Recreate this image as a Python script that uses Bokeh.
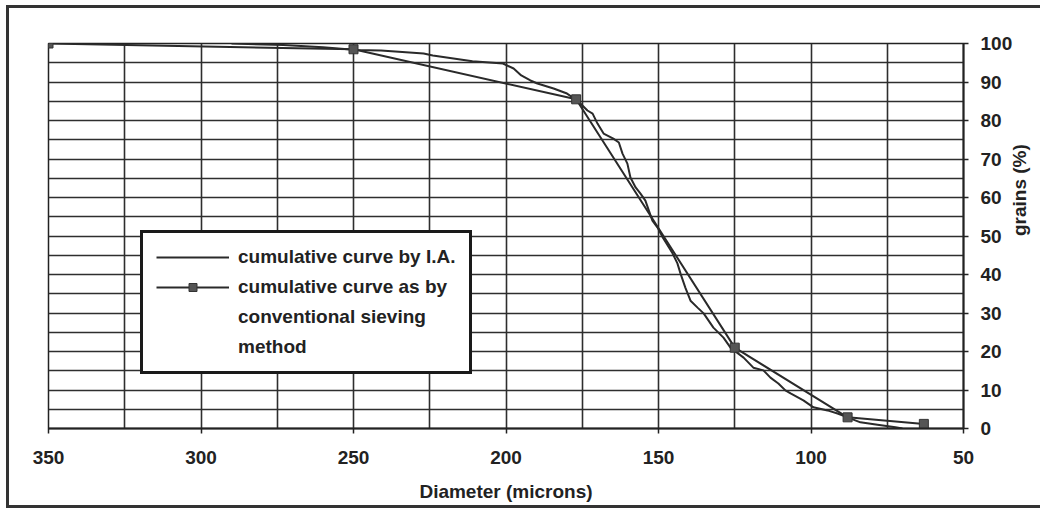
import numpy as np
from bokeh.plotting import figure
from bokeh.models import (Range1d, SingleIntervalTicker, FixedTicker, Legend,
                          LegendItem)
from bokeh.embed import file_html
from bokeh.resources import INLINE

# ---- data -------------------------------------------------------------
sieve_diam = [350, 250, 177, 125, 88, 63]
sieve_pct = [100, 98.5, 85.5, 21, 2.9, 1.2]

ia_diam = [290, 273, 260, 249, 241, 227, 224, 211, 201, 197.5, 195, 192, 189.7,
           184.4, 180, 176.6, 173.3, 171.6, 170, 168, 164.8, 163, 161.8, 160.2,
           159.2, 157.5, 155.9, 154.3, 152, 150.3, 148.5, 145.4, 143.8, 142.8,
           141.2, 139.5, 137.2, 135.2, 132, 128.7, 126.4, 122.1, 118.9, 115.6,
           113.3, 110.7, 108.4, 106.7, 102.5, 99.2, 94.6, 91.3, 88, 83.8, 78.2,
           72.3, 70]
ia_pct = [100, 99.6, 99.0, 98.3, 98.2, 97.4, 96.9, 95.4, 94.8, 93.5, 91.7, 90.4,
          89.6, 88.3, 87, 85.2, 82.6, 81.8, 79.2, 76.6, 75.3, 74.3, 71.4, 68.8,
          65.2, 62.6, 61, 59.2, 54, 52.2, 49.5, 45.5, 42.9, 40.3, 36.6, 33.2, 31.4,
          29.9, 26.2, 23.6, 21, 18.4, 15.8, 15.1, 13.2, 11.7, 9.9, 9.1, 7.3, 5.5,
          4.7, 3.9, 2.9, 1.6, 1.0, 0.3, 0]

x_ticks = [350, 300, 250, 200, 150, 100, 50]
y_ticks = [0, 10, 20, 30, 40, 50, 60, 70, 80, 90, 100]

x_title = "Diameter (microns)"
y_title = "grains (%)"
legend_labels = ["cumulative curve by I.A.", "cumulative curve as by",
                 "conventional sieving", "method"]

FONT = "Liberation Sans"
INK = "#222222"
FS = "19px"

# ---- figure -----------------------------------------------------------
p = figure(width=1034, height=503,
           x_range=Range1d(350, 50), y_range=Range1d(0, 100),
           y_axis_location="right",
           output_backend="svg", toolbar_location=None,
           min_border_left=39, min_border_top=35,
           min_border_right=80, min_border_bottom=83)
p.styles = {"margin-left": "6px", "margin-top": "5px",
            "border-left": "3px solid #333", "border-top": "3px solid #333",
            "border-bottom": "3px solid #333"}
p.background_fill_color = "white"
p.border_fill_color = "white"
p.outline_line_color = INK
p.outline_line_width = 1.5

# grids
p.xgrid.ticker = SingleIntervalTicker(interval=25, num_minor_ticks=0)
p.ygrid.ticker = SingleIntervalTicker(interval=5, num_minor_ticks=0)
for g in (p.xgrid, p.ygrid):
    g.grid_line_color = "#2e2e2e"
    g.grid_line_width = 1.6

# axes
p.xaxis.ticker = FixedTicker(ticks=x_ticks)
p.yaxis.ticker = FixedTicker(ticks=y_ticks)
for ax in (p.xaxis, p.yaxis):
    ax.axis_line_color = INK
    ax.axis_line_width = 2
    ax.major_tick_line_color = INK
    ax.major_tick_line_width = 1.5
    ax.major_tick_out = 5
    ax.major_tick_in = 0
    ax.minor_tick_line_color = None
    ax.major_label_text_font = FONT
    ax.major_label_text_font_style = "bold"
    ax.major_label_text_font_size = FS
    ax.major_label_text_color = INK
    ax.axis_label_text_font = FONT
    ax.axis_label_text_font_style = "bold"
    ax.axis_label_text_font_size = FS
    ax.axis_label_text_color = INK
p.xaxis.major_label_standoff = 17
p.yaxis.major_label_standoff = 12
p.xaxis.axis_label = x_title
p.xaxis.axis_label_standoff = 14
p.yaxis.axis_label = y_title
p.yaxis.axis_label_standoff = 4
try:
    p.yaxis.axis_label_orientation = np.pi / 2   # read bottom-to-top
except Exception:
    pass

# ---- series -----------------------------------------------------------
r_ia = p.line(ia_diam, ia_pct, line_color="#2a2a2a", line_width=2)
r_sl = p.line(sieve_diam, sieve_pct, line_color="#2a2a2a", line_width=2)
r_sm = p.scatter(sieve_diam, sieve_pct, marker="square", size=9,
                 fill_color="#555555", line_color="#333333")
r_blank = p.line([], [], line_alpha=0)

legend = Legend(items=[
    LegendItem(label=legend_labels[0], renderers=[r_ia]),
    LegendItem(label=legend_labels[1], renderers=[r_sl, r_sm]),
    LegendItem(label=legend_labels[2], renderers=[r_blank]),
    LegendItem(label=legend_labels[3], renderers=[r_blank]),
], location=(92, 54))
legend.border_line_color = "#1a1a1a"
legend.border_line_alpha = 1
legend.border_line_width = 3.5
legend.background_fill_color = "white"
legend.background_fill_alpha = 1
legend.padding = 13
legend.spacing = 8
legend.margin = 0
legend.label_height = 20
legend.glyph_height = 20
legend.glyph_width = 73
legend.label_standoff = 9
legend.label_text_font = FONT
legend.label_text_font_style = "bold"
legend.label_text_font_size = FS
legend.label_text_color = INK
p.add_layout(legend)

open("out.html", "w").write(file_html(p, INLINE))
